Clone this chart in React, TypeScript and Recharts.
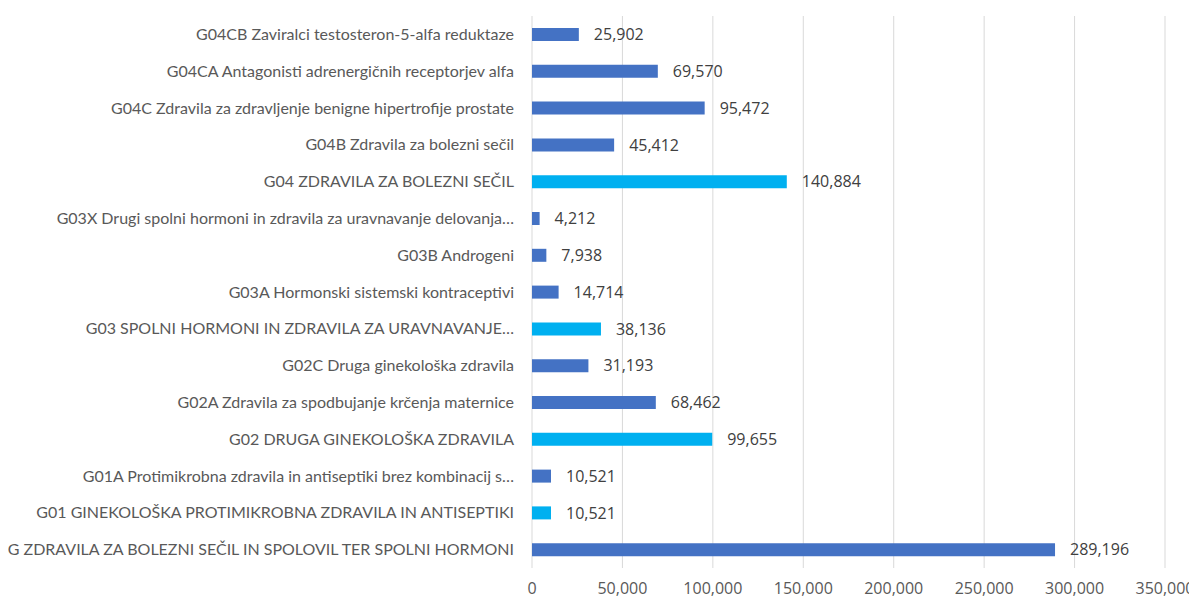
import React from "react";
import {
  BarChart,
  Bar,
  XAxis,
  YAxis,
  CartesianGrid,
  Cell,
  LabelList,
} from "recharts";

// categories, top to bottom as in the picture
const categories = [
  "G04CB Zaviralci testosteron-5-alfa reduktaze",
  "G04CA Antagonisti adrenergičnih receptorjev alfa",
  "G04C Zdravila za zdravljenje benigne hipertrofije prostate",
  "G04B Zdravila za bolezni sečil",
  "G04 ZDRAVILA ZA BOLEZNI SEČIL",
  "G03X Drugi spolni hormoni in zdravila za uravnavanje delovanja…",
  "G03B Androgeni",
  "G03A Hormonski sistemski kontraceptivi",
  "G03 SPOLNI HORMONI IN ZDRAVILA ZA URAVNAVANJE…",
  "G02C Druga ginekološka zdravila",
  "G02A Zdravila za spodbujanje krčenja maternice",
  "G02 DRUGA GINEKOLOŠKA ZDRAVILA",
  "G01A Protimikrobna zdravila in antiseptiki brez kombinacij s…",
  "G01 GINEKOLOŠKA PROTIMIKROBNA ZDRAVILA IN ANTISEPTIKI",
  "G ZDRAVILA ZA BOLEZNI SEČIL IN SPOLOVIL TER SPOLNI HORMONI",
];

const values = [
  25902, 69570, 95472, 45412, 140884, 4212, 7938, 14714, 38136, 31193, 68462,
  99655, 10521, 10521, 289196,
];

const xTicks = [0, 50000, 100000, 150000, 200000, 250000, 300000, 350000];

const DARK = "#4472C4";
const LIGHT = "#00B0F0";

const chartData = categories.map((name, i) => ({ name, value: values[i] }));

// 3-character codes (G01, G02 ...) are the group rows, drawn in light blue
const colorFor = (name: string) =>
  name.split(" ")[0].length === 3 ? LIGHT : DARK;

const fmt = (v: number) => v.toLocaleString("en-US");

const textFont = "Lato, 'Open Sans', sans-serif";
const numFont = "'Open Sans', Lato, sans-serif";

export default function App() {
  return (
    <div style={{ width: 1189, height: 593, fontFamily: textFont }}>
      <BarChart
        width={1189}
        height={593}
        data={chartData}
        layout="vertical"
        margin={{ top: 8, right: 32, left: 0, bottom: 4 }}
        barCategoryGap="32%"
      >
        <CartesianGrid horizontal={false} stroke="#D9D9D9" strokeWidth={1} />
        <XAxis
          type="number"
          domain={[0, 350000]}
          ticks={xTicks}
          tickFormatter={fmt}
          axisLine={false}
          tickLine={false}
          tickSize={0}
          tickMargin={15}
          height={29}
          tick={{ fill: "#595959", fontSize: 16, fontFamily: numFont }}
          interval={0}
        />
        <YAxis
          type="category"
          dataKey="name"
          width={524}
          axisLine={false}
          tickLine={false}
          tickSize={0}
          tickMargin={18}
          interval={0}
          tick={{ fill: "#595959", fontSize: 16, fontFamily: textFont }}
        />
        <Bar dataKey="value" barSize={13} isAnimationActive={false}>
          {chartData.map((d) => (
            <Cell key={d.name} fill={colorFor(d.name)} />
          ))}
          <LabelList
            dataKey="value"
            position="right"
            offset={15}
            formatter={(v: any) => fmt(Number(v))}
            style={{ fill: "#404040", fontSize: 16, fontFamily: numFont }}
          />
        </Bar>
      </BarChart>
    </div>
  );
}
